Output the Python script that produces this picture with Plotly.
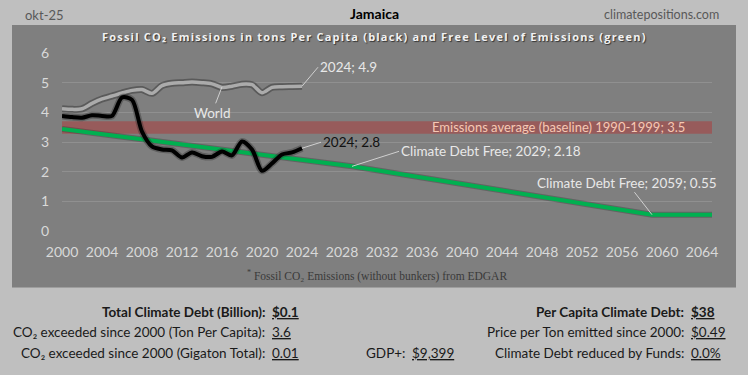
import plotly.graph_objects as go

# ---------------- data ----------------
years = list(range(2000, 2025))
jamaica = [3.88, 3.84, 3.82, 3.9, 3.88, 3.88, 4.5, 4.42, 3.35, 2.85, 2.75, 2.72, 2.48,
           2.65, 2.52, 2.5, 2.68, 2.55, 3.02, 2.75, 2.03, 2.28, 2.58, 2.65, 2.79]
world = [4.12, 4.1, 4.12, 4.3, 4.45, 4.55, 4.65, 4.74, 4.77, 4.64, 4.9, 4.98, 5.0,
         5.02, 5.0, 4.96, 4.84, 4.88, 4.95, 4.93, 4.66, 4.84, 4.86, 4.87, 4.88]
free_years = [2000, 2029, 2059, 2065]
free_values = [3.44, 2.18, 0.55, 0.55]
baseline = 3.5
band_low, band_high = 3.28, 3.7

# ---------------- layout helpers ----------------
W, H = 748, 375
L, R, T, B = 62, 712, 53, 230.7


def px(x):
    return (x - L) / (R - L)


def py(y):
    return (B - y) / (B - T)


PANEL = "#7f7f7f"
PAGE = "#bfbfbf"
FONT = "Lato"

fig = go.Figure()

# band
fig.add_shape(type="rect", xref="x", yref="y", x0=2000, x1=2065, y0=band_low, y1=band_high,
              fillcolor="#975b5b", line_width=0, layer="below")

# world line with shadow
fig.add_trace(go.Scatter(x=years, y=world, mode="lines", line=dict(color="rgba(60,60,60,0.55)", width=7, shape="spline", smoothing=0.8),
                         hoverinfo="skip", showlegend=False))
fig.add_trace(go.Scatter(x=years, y=world, mode="lines", line=dict(color="#ababab", width=3.5, shape="spline", smoothing=0.8),
                         name="World", showlegend=False))
# free level (green)
fig.add_trace(go.Scatter(x=free_years, y=free_values, mode="lines", line=dict(color="rgba(50,50,50,0.35)", width=6),
                         hoverinfo="skip", showlegend=False))
fig.add_trace(go.Scatter(x=free_years, y=free_values, mode="lines", line=dict(color="#00b050", width=4),
                         name="Free level", showlegend=False))
# Jamaica (black)
fig.add_trace(go.Scatter(x=years, y=jamaica, mode="lines", line=dict(color="rgba(40,40,40,0.35)", width=7, shape="spline", smoothing=0.8),
                         hoverinfo="skip", showlegend=False))
fig.add_trace(go.Scatter(x=years, y=jamaica, mode="lines", line=dict(color="#000000", width=4, shape="spline", smoothing=0.8),
                         name="Jamaica", showlegend=False))

fig.add_shape(type="rect", xref="paper", yref="paper", x0=px(12), x1=px(736), y0=py(287), y1=py(25),
              fillcolor=PANEL, line_width=0, layer="below")

ann = []
# header
ann.append(dict(x=px(374), y=py(14), xref="paper", yref="paper", text="<b>Jamaica</b>", showarrow=False,
                xanchor="center", yanchor="middle", font=dict(family=FONT, size=14, color="#000000")))
ann.append(dict(x=px(721), y=py(15), xref="paper", yref="paper", text="climatepositions.com", showarrow=False,
                xanchor="right", yanchor="middle", font=dict(family=FONT, size=12.5, color="#595959")))
ann.append(dict(x=px(374), y=py(37), xref="paper", yref="paper",
                text='<span style="letter-spacing:1.2px"><b>Fossil CO₂ Emissions in tons Per Capita (black) and Free Level of Emissions (green)</b></span>',
                showarrow=False, xanchor="center", yanchor="middle",
                font=dict(family="Open Sans", size=11, color="#f2f2f2", shadow="1px 1px 1px rgba(0,0,0,0.6)")))
# in-chart labels
ann.append(dict(x=2062.5, y=baseline, xref="x", yref="y", text="Emissions average (baseline) 1990-1999; 3.5",
                showarrow=False, xanchor="right", yanchor="middle", font=dict(family=FONT, size=13, color="#f6c8b4")))
lead = "#d0d0d0"
ann.append(dict(x=2024, y=world[-1], xref="x", yref="y", text="2024; 4.9", showarrow=True, arrowhead=0,
                arrowwidth=1, arrowcolor=lead, ax=16, ay=-19, xanchor="left", yanchor="middle",
                font=dict(family=FONT, size=13.5, color="#e8e8e8")))
ann.append(dict(x=2016, y=4.86, xref="x", yref="y", text="World", showarrow=True, arrowhead=0,
                arrowwidth=1, arrowcolor=lead, ax=-10, ay=26, xanchor="center", yanchor="middle",
                font=dict(family=FONT, size=13.5, color="#e8e8e8")))
ann.append(dict(x=2024, y=jamaica[-1], xref="x", yref="y", text="2024; 2.8", showarrow=True, arrowhead=0,
                arrowwidth=1, arrowcolor=lead, ax=19, ay=-6, xanchor="left", yanchor="middle",
                font=dict(family=FONT, size=13.5, color="#111111")))
ann.append(dict(x=free_years[1], y=free_values[1], xref="x", yref="y", text="Climate Debt Free; 2029; 2.18",
                showarrow=True, arrowhead=0, arrowwidth=1, arrowcolor=lead, ax=47, ay=-15,
                xanchor="left", yanchor="middle", font=dict(family=FONT, size=13.5, color="#e8e8e8")))
ann.append(dict(x=free_years[2], y=free_values[2], xref="x", yref="y", text="Climate Debt Free; 2059; 0.55",
                showarrow=True, arrowhead=0, arrowwidth=1, arrowcolor=lead, ax=-25, ay=-32,
                xanchor="center", yanchor="middle", font=dict(family=FONT, size=13.5, color="#e8e8e8")))
# footnote
ann.append(dict(x=px(377), y=py(275), xref="paper", yref="paper",
                text="<sup>*</sup> Fossil CO₂ Emissions (without bunkers) from EDGAR", showarrow=False,
                xanchor="center", yanchor="middle", font=dict(family="Liberation Serif", size=11.5, color="#3a3a3a")))

# bottom stats
U = '<span style="text-decoration:underline">{}</span>'
rows = [
    (267, 312, "<b>Total Climate Debt (Billion):</b>", "<b>" + U.format("$0.1") + "</b>"),
    (267, 332, "CO₂ exceeded since 2000 (Ton Per Capita):", U.format("3.6")),
    (267, 352, "CO₂ exceeded since 2000 (Gigaton Total):", U.format("0.01")),
    (407, 352, "GDP+:", U.format("$9,399")),
    (686, 312, "<b>Per Capita Climate Debt:</b>", "<b>" + U.format("$38") + "</b>"),
    (686, 332, "Price per Ton emitted since 2000:", U.format("$0.49")),
    (686, 352, "Climate Debt reduced by Funds:", U.format("0.0%")),
]
for xr, yr, lab, val in rows:
    ann.append(dict(x=px(xr), y=py(yr), xref="paper", yref="paper", text=lab, showarrow=False,
                    xanchor="right", yanchor="middle", font=dict(family=FONT, size=13.5, color="#1a1a1a")))
    ann.append(dict(x=px(xr + 3), y=py(yr), xref="paper", yref="paper", text=val, showarrow=False,
                    xanchor="left", yanchor="middle", font=dict(family=FONT, size=13.5, color="#1a1a1a")))

fig.update_layout(
    width=W, height=H,
    margin=dict(l=L, r=W - R, t=T, b=H - B),
    paper_bgcolor=PAGE, plot_bgcolor=PANEL,
    title=dict(text="okt-25", x=25 / W, xref="container", xanchor="left",
               y=1 - 15 / H, yref="container", yanchor="middle",
               font=dict(family=FONT, size=13, color="#595959")),
    annotations=ann,
    xaxis=dict(range=[2000, 2065], tick0=2000, dtick=4, showgrid=False, zeroline=False, showline=False,
               tickfont=dict(family=FONT, size=14, color="#d9d9d9"), ticklabelstandoff=11, automargin=False),
    yaxis=dict(range=[0, 6], dtick=1, showgrid=True, gridcolor="#909090", gridwidth=1, zeroline=False,
               showline=False, tickfont=dict(family=FONT, size=14, color="#d9d9d9"), ticklabelstandoff=12,
               automargin=False),
    showlegend=False,
)

fig.write_html("out.html", config={"displayModeBar": False},
               post_script="document.body.style.margin='0';document.body.style.padding='0';")
